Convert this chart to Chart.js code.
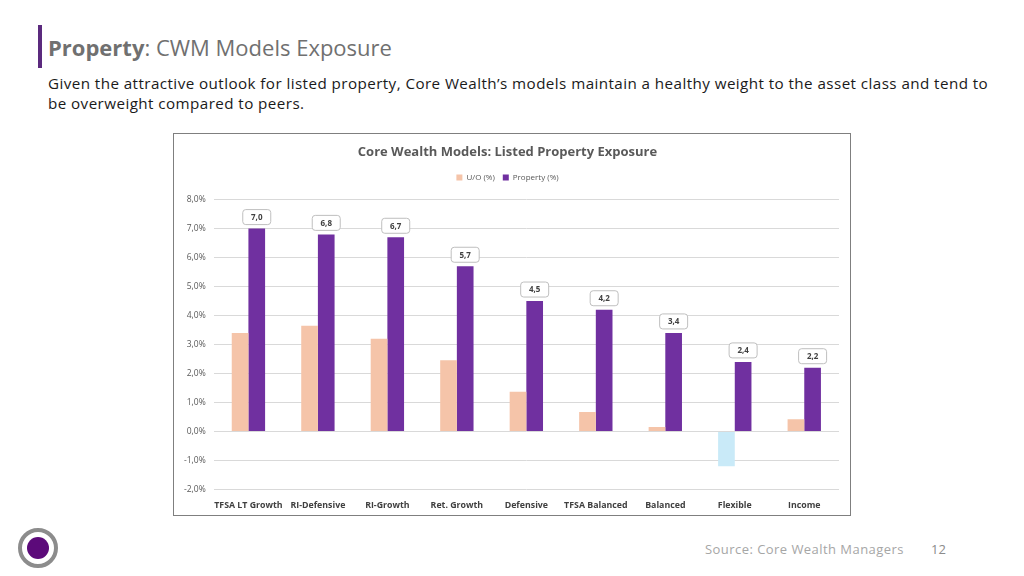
<!DOCTYPE html>
<html>
<head>
<meta charset="utf-8">
<script src="https://cdn.jsdelivr.net/npm/chart.js@4.4.0/dist/chart.umd.min.js"></script>
<style>
  html,body{margin:0;padding:0;background:#fff;}
  body{width:1024px;height:576px;position:relative;overflow:hidden;font-family:"Open Sans",sans-serif;}
  .accent{position:absolute;left:38px;top:25px;width:4px;height:43px;background:#5b2a7e;}
  .title{position:absolute;left:48px;top:32px;font-size:22px;color:#707070;white-space:nowrap;letter-spacing:0px;}
  .title b{font-weight:700;color:#707070;}
  .sub{position:absolute;left:48px;top:73px;width:950px;font-size:15.2px;letter-spacing:0.43px;line-height:20px;color:#1a1a1a;}
  .box{position:absolute;left:173px;top:133px;width:676px;height:381px;border:1px solid #7f7f7f;}
  .box canvas{display:block;}
  .source{position:absolute;left:705px;top:540px;font-size:13px;letter-spacing:0.45px;color:#a6a6a6;white-space:nowrap;}
  .page{position:absolute;left:931px;top:540px;font-size:13px;color:#8c8c8c;}
  .logo{position:absolute;left:18px;top:528px;width:40px;height:40px;}
</style>
</head>
<body>
<div class="accent"></div>
<div class="title"><b>Property</b>: CWM Models Exposure</div>
<div class="sub">Given the attractive outlook for listed property, Core Wealth’s models maintain a healthy weight to the asset class and tend to be overweight compared to peers.</div>
<div class="box"><canvas id="c" width="676" height="381"></canvas></div>
<svg class="logo" viewBox="0 0 40 40"><circle cx="20" cy="20" r="18" fill="none" stroke="#8c8c8c" stroke-width="4"/><circle cx="20" cy="20" r="11" fill="#5c0a7a"/></svg>
<div class="source">Source: Core Wealth Managers</div>
<div class="page">12</div>
<script>
const categories = ["TFSA LT Growth","RI-Defensive","RI-Growth","Ret. Growth","Defensive","TFSA Balanced","Balanced","Flexible","Income"];
const uoValues = [3.4, 3.65, 3.2, 2.46, 1.37, 0.67, 0.15, -1.2, 0.42];
const propertyValues = [7.0, 6.8, 6.7, 5.7, 4.5, 4.2, 3.4, 2.4, 2.2];
const seriesNames = ["U/O (%)", "Property (%)"];
const yTicks = [-2, -1, 0, 1, 2, 3, 4, 5, 6, 7, 8];

const labelPlugin = {
  id: 'boxLabels',
  afterDatasetsDraw(chart) {
    const ctx = chart.ctx;
    const meta = chart.getDatasetMeta(1);
    ctx.save();
    ctx.font = 'bold 8px "Open Sans"';
    ctx.textAlign = 'center';
    ctx.textBaseline = 'middle';
    meta.data.forEach((bar, i) => {
      const txt = propertyValues[i].toFixed(1).replace('.', ',');
      const w = 28, h = 15;
      const x = bar.x - w / 2, y = bar.y - 4 - h;
      ctx.beginPath();
      ctx.roundRect(x, y, w, h, 3);
      ctx.fillStyle = '#ffffff';
      ctx.fill();
      ctx.strokeStyle = '#bfbfbf';
      ctx.lineWidth = 1;
      ctx.stroke();
      ctx.fillStyle = '#404040';
      ctx.fillText(txt, bar.x, y + h / 2 + 0.5);
    });
    ctx.restore();
  }
};

const legendGap = {
  id: 'legendGap',
  beforeInit(chart) {
    const orig = chart.legend.fit;
    chart.legend.fit = function () {
      orig.bind(chart.legend)();
      this.height += 8;
    };
  }
};

new Chart(document.getElementById('c'), {
  type: 'bar',
  data: {
    labels: categories,
    datasets: [
      {
        label: seriesNames[0],
        data: uoValues,
        backgroundColor: uoValues.map(v => v < 0 ? '#c9eaf8' : '#f5c4a9'),
        categoryPercentage: 0.48,
        barPercentage: 1.0
      },
      {
        label: seriesNames[1],
        data: propertyValues,
        backgroundColor: '#7030a0',
        categoryPercentage: 0.48,
        barPercentage: 1.0
      }
    ]
  },
  options: {
    responsive: false,
    animation: false,
    devicePixelRatio: 1,
    layout: { padding: { left: 2, right: 11, top: 0, bottom: 1 } },
    plugins: {
      title: {
        display: true,
        text: 'Core Wealth Models: Listed Property Exposure',
        color: '#595959',
        font: { family: '"Open Sans"', size: 13, weight: 'bold' },
        padding: { top: 10, bottom: 6 }
      },
      legend: {
        display: true,
        labels: {
          boxWidth: 6, boxHeight: 6,
          color: '#595959',
          font: { family: '"Open Sans"', size: 8 },
          padding: 8,
          generateLabels(chart) {
            return seriesNames.map((n, i) => ({
              text: n,
              fillStyle: i === 0 ? '#f5c4a9' : '#7030a0',
              strokeStyle: 'transparent',
              lineWidth: 0,
              datasetIndex: i,
              fontColor: '#595959'
            }));
          }
        }
      },
      tooltip: { enabled: false }
    },
    scales: {
      x: {
        grid: { display: false },
        border: { display: false },
        ticks: {
          color: '#404040',
          font: { family: '"Open Sans"', size: 8.8, weight: 'bold' },
          maxRotation: 0, autoSkip: false
        }
      },
      y: {
        min: -2, max: 8,
        afterBuildTicks(scale) { scale.ticks = yTicks.map(v => ({ value: v })); },
        grid: { color: '#d9d9d9', drawTicks: false },
        border: { display: false },
        ticks: {
          color: '#595959',
          padding: 8,
          font: { family: '"Open Sans"', size: 8.5 },
          callback: v => v.toFixed(1).replace('.', ',') + '%'
        }
      }
    }
  },
  plugins: [labelPlugin, legendGap]
});
</script>
</body>
</html>
